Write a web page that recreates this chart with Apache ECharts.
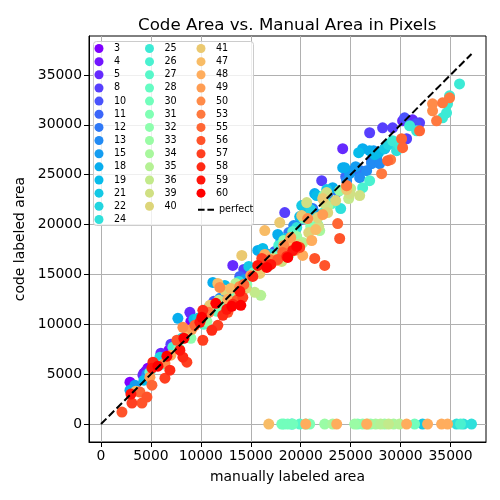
<!DOCTYPE html>
<html>
<head>
<meta charset="utf-8">
<script src="https://cdn.jsdelivr.net/npm/echarts@6/dist/echarts.min.js"></script>
<style>
  html, body { margin: 0; padding: 0; background: #fff; }
  #chart { width: 500px; height: 500px; }
</style>
</head>
<body>
<div id="chart"></div>
<script>
// legend names, in plotting order
var names = ["3", "4", "5", "8", "10", "11", "12", "13", "15", "18", "19", "21", "22", "24",
  "25", "26", "27", "28", "30", "31", "32", "33", "34", "35", "36", "39", "40",
  "41", "47", "48", "49", "50", "53", "55", "56", "57", "58", "59", "60"];

// [manual area, code area] per image group
var p3 = [[2900, 4200], [3300, 3600], [4300, 5100], [4700, 5600], [6800, 7400], [9000, 10300], [13200, 13500]];
var p4 = [[3000, 3300], [4500, 5300], [5500, 6200], [8600, 9400], [11000, 11900], [12600, 13400]];
var p5 = [[4200, 4900], [6000, 7100], [8900, 11200], [12400, 12800], [24200, 27600], [30200, 30400], [31200, 30500], [13200, 15900]];
var p8 = [[18400, 21200], [22100, 24400], [26900, 29200], [28200, 29700], [29200, 29700], [30600, 28600], [31900, 30200], [14300, 15500], [9600, 10300], [7000, 8000]];
var p10 = [[30400, 30700], [31500, 30100], [28400, 27600], [16200, 16400], [11300, 12300], [5200, 5800], [20500, 20900], [25200, 25400]];
var p11 = [[20000, 20500], [24500, 24800], [27100, 26300], [13900, 14800], [9800, 10400], [17400, 17300], [22900, 22400]];
var p12 = [[26000, 25400], [21200, 21600], [15200, 15600], [12000, 11800], [6200, 6600], [18800, 19200], [23700, 23300]];
var p13 = [[27600, 26700], [27100, 26100], [27900, 26100], [25900, 24700], [26600, 25400], [24600, 24400], [22700, 22800], [19300, 19900], [16800, 17000], [11900, 12600], [4600, 5000]];
var p15 = [[25500, 25800], [24900, 25100], [21700, 21000], [18000, 18300], [14400, 14500], [10500, 10900], [3400, 3900], [27300, 27400]];
var p18 = [[26200, 27600], [26900, 27400], [24200, 25700], [24400, 25700], [21400, 23100], [23200, 23700], [20700, 21400], [17700, 19000], [11200, 14200], [7700, 10600], [2900, 3400], [5600, 6000], [15700, 17400]];
var p19 = [[25800, 27200], [27400, 27000], [21600, 22900], [19900, 20800], [16200, 17600], [12400, 13900], [9300, 10500], [4300, 4400], [27800, 27200]];
var p21 = [[20100, 21900], [22600, 23500], [18500, 18600], [14800, 15800], [9700, 10600], [28400, 27600], [19100, 0], [32200, 0]];
var p22 = [[21000, 21500], [17100, 17000], [14000, 13900], [10800, 11700], [5900, 6700], [28800, 28000]];
var p24 = [[35600, 0], [36300, 0], [37100, 0], [29600, 27400], [24000, 21600], [19600, 19700], [13800, 14300], [8100, 8600]];
var p25 = [[35900, 34100], [34900, 32900], [34700, 32100], [34600, 31200], [34200, 30700], [29200, 28400], [29900, 27900], [31600, 29400], [30900, 29900]];
var p26 = [[26900, 24400], [26200, 23700], [22300, 21200], [17800, 17900], [12700, 13300], [7200, 7700], [36000, 0]];
var p27 = [[23100, 22100], [19200, 19300], [16700, 15800], [10300, 10000], [6200, 6000], [19900, 0], [20500, 0]];
var p28 = [[21700, 20000], [18500, 17800], [15300, 15200], [11600, 11300], [4900, 5200], [18300, 0]];
var p30 = [[20300, 20600], [17500, 16800], [13300, 12800], [8700, 8800], [18100, 0], [18700, 0], [19200, 0], [31400, 0]];
var p31 = [[22300, 22900], [16400, 16000], [12100, 11600], [7800, 7600], [20900, 0], [25700, 0]];
var p32 = [[21000, 19800], [18300, 18400], [14600, 14000], [9000, 8600], [26200, 0], [27000, 0]];
var p33 = [[23900, 23400], [19600, 18800], [15800, 15400], [10600, 10300], [25400, 0], [28400, 0], [22400, 0]];
var p34 = [[21900, 19400], [18900, 17100], [14200, 13500], [27500, 0], [29300, 0], [23200, 0]];
var p35 = [[22700, 21800], [20200, 18200], [16000, 12900], [13500, 14100], [28000, 0], [29900, 0]];
var p36 = [[24800, 22600], [19400, 17600], [15400, 13200], [11800, 12400], [26700, 0], [28800, 0], [25000, 23600]];
var p39 = [[22600, 23200], [24900, 23100], [25900, 22900], [22400, 22100], [20600, 22200], [19700, 18000], [18100, 16300], [21800, 19800]];
var p40 = [[22700, 21200], [21700, 20700], [20800, 19200], [19300, 17500], [17200, 16600], [23500, 22400], [14500, 13600], [12400, 13400]];
var p41 = [[24600, 23500], [17900, 20200], [14100, 16900], [20100, 20900], [22200, 22600], [15900, 15100], [10900, 11900], [13800, 12800]];
var p47 = [[16400, 19400], [11700, 14100], [16800, 0], [18800, 18200], [21500, 19500], [13000, 13600], [8700, 9400], [3500, 3300]];
var p48 = [[20500, 0], [23600, 0], [26600, 0], [30600, 0], [32700, 0], [34100, 0], [34700, 0], [16400, 17000], [21100, 18400], [12700, 12500], [7000, 6900], [20200, 16900]];
var p49 = [[24600, 23900], [19000, 18700], [15000, 14900], [9100, 9500], [4900, 4700], [22200, 21000], [17600, 16400]];
var p50 = [[33200, 32100], [33200, 31400], [18300, 17900], [13900, 13800], [8200, 9700], [11900, 13700], [20700, 20600], [6400, 6100]];
var p53 = [[34900, 32700], [34200, 32200], [33600, 30400], [29000, 26500], [28100, 25100], [24600, 23900], [19400, 17400], [16900, 16500], [10800, 11200]];
var p55 = [[31900, 29400], [30100, 28600], [30200, 27700], [28700, 26400], [23700, 20100], [18200, 17200], [14300, 14000], [9400, 9900], [5100, 3900], [3900, 3200]];
var p56 = [[23900, 18600], [21400, 16600], [22400, 15900], [17700, 16500], [13600, 12400], [12700, 11200], [7600, 8400], [4600, 2700], [2100, 1200], [4100, 2100]];
var p57 = [[16100, 16600], [19900, 17700], [14200, 12700], [11700, 9900], [6400, 4600], [3100, 2100], [8600, 6200], [10200, 8400]];
var p58 = [[18600, 16800], [13200, 12000], [12200, 10900], [11100, 9400], [8200, 6700], [5200, 6200], [6900, 5400], [15200, 14800], [10200, 11400]];
var p59 = [[19200, 17400], [17000, 16000], [13900, 13300], [12600, 11500], [9900, 10200], [7900, 7400], [5100, 5600], [3000, 3000], [15700, 15900]];
var p60 = [[19600, 17800], [18700, 16700], [14000, 11900], [13100, 11800], [10100, 10700], [8300, 8600], [6600, 6800], [5700, 5800], [16600, 15700], [11500, 12100]];

var groups = [p3, p4, p5, p8, p10, p11, p12, p13, p15, p18, p19, p21, p22, p24,
  p25, p26, p27, p28, p30, p31, p32, p33, p34, p35, p36, p39, p40,
  p41, p47, p48, p49, p50, p53, p55, p56, p57, p58, p59, p60];

var perfectLine = [[0, 0], [37100, 37100]];
var xTicks = [0, 5000, 10000, 15000, 20000, 25000, 30000, 35000];
var yTicks = [0, 5000, 10000, 15000, 20000, 25000, 30000, 35000];

var FONT = "DejaVu Sans";

// matplotlib "rainbow" colormap
function rainbow(t) {
  var r = Math.min(1, Math.abs(2 * t - 0.5));
  var g = Math.max(0, Math.sin(Math.PI * t));
  var b = Math.max(0, Math.cos(Math.PI * t / 2));
  return "rgb(" + Math.round(r * 255) + "," + Math.round(g * 255) + "," + Math.round(b * 255) + ")";
}

var chart = echarts.init(document.getElementById("chart"));

var series = names.map(function (nm, i) {
  return {
    name: nm,
    type: "scatter",
    data: groups[i],
    symbolSize: 11,
    itemStyle: { color: rainbow(i / (names.length - 1)), opacity: 1 }
  };
});
series.push({
  name: "perfect",
  type: "line",
  data: perfectLine,
  symbol: "none",
  z: 5,
  itemStyle: { color: "#000" },
  lineStyle: { color: "#000", width: 2, type: [7.7, 3.3] }
});

function legendCol(list, left) {
  return {
    data: list,
    orient: "vertical",
    left: left,
    top: 43.5,
    padding: 0,
    itemWidth: 20,
    itemHeight: 9,
    itemGap: 3.15,
    icon: "circle",
    z: 12,
    textStyle: { fontSize: 9.6, color: "#000", fontFamily: FONT, lineHeight: 9 }
  };
}

chart.setOption({
  animation: false,
  title: {
    text: "Code Area vs. Manual Area in Pixels",
    left: 133,
    top: 12,
    textStyle: { fontSize: 16.7, fontWeight: "normal", color: "#000", fontFamily: FONT }
  },
  graphic: [{
    type: "rect",
    z: 10,
    shape: { x: 93.5, y: 41.5, width: 160, height: 184, r: 3 },
    style: { fill: "rgba(255,255,255,0.8)", stroke: "#cccccc", lineWidth: 1 }
  }],
  legend: [
    legendCol(names.slice(0, 14), 94.5),
    legendCol(names.slice(14, 27), 145),
    legendCol(names.slice(27), 196.5),
    {
      data: ["perfect"],
      orient: "vertical",
      left: 198,
      top: 204.8,
      padding: 0,
      itemWidth: 16,
      itemHeight: 2,
      icon: "path://M0,0H7V2H0ZM10,0H17V2H10Z",
      z: 12,
      textStyle: { fontSize: 9.6, color: "#000", fontFamily: FONT }
    }
  ],
  grid: {
    left: 89, right: 14, top: 36, bottom: 58,
    show: true, borderColor: "#000", borderWidth: 1
  },
  xAxis: {
    type: "value",
    min: -1200,
    max: 38550,
    name: "manually labeled area",
    nameLocation: "middle",
    nameGap: 28,
    nameTextStyle: { fontSize: 13.9, color: "#000", fontFamily: FONT },
    axisLine: { show: true, onZero: false, lineStyle: { color: "#000", width: 1 } },
    axisTick: { show: true, length: 5, customValues: xTicks, lineStyle: { color: "#000" } },
    axisLabel: {
      customValues: xTicks,
      color: "#000", fontSize: 13.9, margin: 7, fontFamily: FONT,
      formatter: function (v) { return String(v); }
    },
    splitLine: { show: true, lineStyle: { color: "#b0b0b0", width: 1 } }
  },
  yAxis: {
    type: "value",
    min: -1800,
    max: 38900,
    name: "code labeled area",
    nameLocation: "middle",
    nameGap: 60,
    nameTextStyle: { fontSize: 13.9, color: "#000", fontFamily: FONT },
    axisLine: { show: true, onZero: false, lineStyle: { color: "#000", width: 1 } },
    axisTick: { show: true, length: 5, customValues: yTicks, lineStyle: { color: "#000" } },
    axisLabel: {
      customValues: yTicks,
      color: "#000", fontSize: 13.9, margin: 7, fontFamily: FONT,
      formatter: function (v) { return String(v); }
    },
    splitLine: { show: true, lineStyle: { color: "#b0b0b0", width: 1 } }
  },
  series: series
});
</script>
</body>
</html>
